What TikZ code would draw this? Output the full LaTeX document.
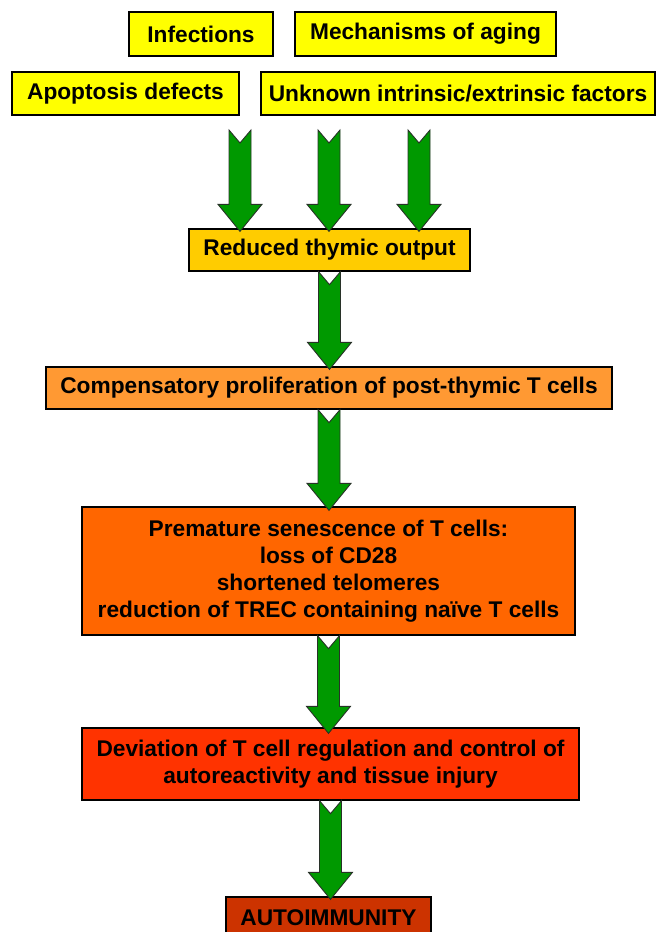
\documentclass[tikz,border=0pt]{standalone}
\usepackage{fontspec}
\setmainfont{Liberation Sans}
\usetikzlibrary{calc}
\definecolor{ylw}{RGB}{255,255,0}
\definecolor{gold}{RGB}{255,204,0}
\definecolor{orlight}{RGB}{255,153,51}
\definecolor{ormid}{RGB}{255,102,0}
\definecolor{orred}{RGB}{255,51,0}
\definecolor{brick}{RGB}{204,51,0}
\definecolor{arrgreen}{RGB}{0,153,0}
\definecolor{arredge}{RGB}{40,50,40}
\tikzset{
  box/.style={draw=black, line width=1.3pt, inner sep=0pt, align=center,
    font=\bfseries\fontsize{22.7}{27}\selectfont},
  blockarr/.style={fill=arrgreen, draw=arredge, line width=0.9pt, line join=miter}
}
\newcommand\blockarrow[2]{%
  \draw[blockarr] let \p1=(#1), \p2=(#2) in
    ({\x1-11pt},\y1) -- (\x1,{\y1-13pt}) -- ({\x1+11pt},\y1)
    -- ({\x1+11pt},{\y2+27pt}) -- ({\x1+22pt},{\y2+27pt})
    -- (\x1,\y2) -- ({\x1-22pt},{\y2+27pt}) -- ({\x1-11pt},{\y2+27pt}) -- cycle;}
\begin{document}
\begin{tikzpicture}[x=1pt,y=-1pt]
\useasboundingbox (0,0) rectangle (657,932);
\clip (0,0) rectangle (657,932);
\fill[white] (0,0) rectangle (657,932);
\node[box, fill=ylw, minimum width=144pt, minimum height=44pt] (inf) at (201,34) {Infections};
\node[box, fill=ylw, minimum width=261pt, minimum height=44pt] (mech) at (425.5,34) {Mechanisms of aging};
\node[box, fill=ylw, minimum width=227pt, minimum height=43pt] (apo) at (125.5,93.5) {Apoptosis defects};
\node[box, fill=ylw, minimum width=394pt, minimum height=43pt] (unk) at (458,93.5) {Unknown intrinsic/extrinsic factors};
\node[box, fill=gold, minimum width=281pt, minimum height=42pt] (red) at (329.5,250) {Reduced thymic output};
\node[box, fill=orlight, minimum width=566pt, minimum height=42pt] (comp) at (329,388) {Compensatory proliferation of post-thymic T cells};
\node[box, fill=ormid, minimum width=493pt, minimum height=128pt] (prem) at (328.5,571) {Premature senescence of T cells:\\loss of CD28\\shortened telomeres\\reduction of TREC containing naïve T cells};
\node[box, fill=orred, minimum width=497pt, minimum height=72pt] (dev) at (330.5,764) {Deviation of T cell regulation and control of\\autoreactivity and tissue injury};
\node[box, fill=brick, minimum width=205pt, minimum height=42pt] (auto) at (328.5,918) {AUTOIMMUNITY};
% free starts of the three upper arrows
\coordinate (s1) at (240,130);
\coordinate (s2) at (329,130);
\coordinate (s3) at (419,130);
\coordinate (redtop) at ($(red.north)+(0,3)$);
\blockarrow{s1}{redtop}
\blockarrow{s2}{redtop}
\blockarrow{s3}{redtop}
\blockarrow{red.south}{$(comp.north)+(0,3)$}
\blockarrow{comp.south}{$(prem.north)+(0,4)$}
\blockarrow{prem.south}{$(dev.north)+(0,6)$}
\blockarrow{dev.south}{$(auto.north)+(0,3)$}
\end{tikzpicture}
\end{document}
